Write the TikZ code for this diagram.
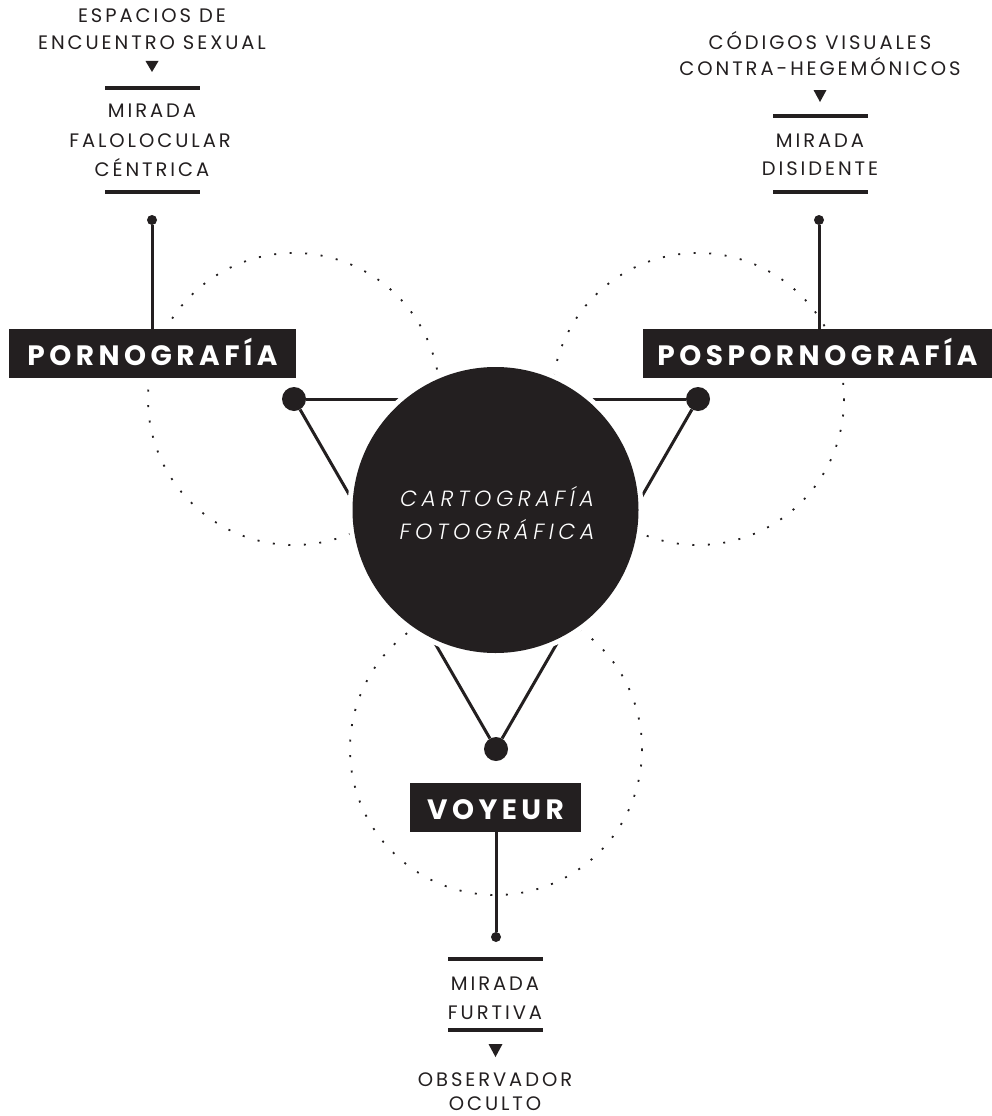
\documentclass[tikz,border=0pt]{standalone}
\usepackage{fontspec}
\setmainfont{Poppins}
\newfontfamily\labfont{Poppins}[LetterSpace=15]
\IfFontExistsTF{Poppins Light Italic}
  {\newfontfamily\cenfont{Poppins Light Italic}[LetterSpace=21]}
  {\newfontfamily\cenfont{Poppins}[LetterSpace=21,FakeSlant=0.2]}
\newfontfamily\boxfont{Poppins}[LetterSpace=16]
\definecolor{dark}{HTML}{231F20}
\tikzset{
  lab/.style={font=\labfont\fontsize{19.5}{19.5}\selectfont, text=dark, anchor=base, inner sep=0pt, text depth=0pt},
  cen/.style={font=\cenfont\fontsize{22}{22}\selectfont, text=white, anchor=base, inner sep=0pt},
  catbox/.style={fill=dark, text=white, font=\boxfont\bfseries\fontsize{28}{28}\selectfont,
    minimum height=49pt, inner sep=0pt, text height=23pt, text depth=0pt},
  bigdot/.style={circle, fill=dark, minimum size=24pt, inner sep=0pt},
  smalldot/.style={circle, fill=dark, minimum size=10pt, inner sep=0pt},
  edgeline/.style={draw=dark, line width=3pt},
  rulebar/.style={draw=dark, line width=3.3pt},
  orbit/.style={draw=dark, line width=1.8pt, dash pattern=on 2pt off 13.54pt},
  hub/.style={circle, fill=dark, minimum size=286pt, inner sep=0pt,
    preaction={draw=white, line width=10pt}},
  marker/.style={fill=dark}
}
\begin{document}
\begin{tikzpicture}[x=1pt,y=-1pt]
\useasboundingbox[fill=white] (0,0) rectangle (992,1116);

% vertices
\coordinate (cL) at (294,399);
\coordinate (cR) at (698,399);
\coordinate (cB) at (496,749);

% dotted orbits
\draw[orbit] (cL) circle (146);
\draw[orbit] (cR) circle (146);
\draw[orbit] (cB) circle (146);

% vertex dots
\node[bigdot] (vL) at (cL) {};
\node[bigdot] (vR) at (cR) {};
\node[bigdot] (vB) at (cB) {};

% triangle
\draw[edgeline] (vL) -- (vR);
\draw[edgeline] (vR) -- (vB);
\draw[edgeline] (vB) -- (vL);

% central hub
\node[hub] (hub) at (495.5,510) {};
\node[cen] (c1) at (497,506) {CARTOGRAFÍA};
\node[cen] (c2) at (497,539) {FOTOGRÁFICA};

% category boxes
\node[catbox, minimum width=287pt] (bL) at (152.5,353.5) {PORNOGRAFÍA};
\node[catbox, minimum width=349pt] (bR) at (817.5,353.5) {POSPORNOGRAFÍA};
\node[catbox, minimum width=171pt] (bB) at (495.5,807.5) {VOYEUR};

% small dots and connectors
\node[smalldot] (dL) at (152,220) {};
\node[smalldot] (dR) at (819,220) {};
\node[smalldot] (dB) at (496,937) {};
\draw[edgeline] (dL) -- (dL |- bL.north);
\draw[edgeline] (dR) -- (dR |- bR.north);
\draw[edgeline] (dB) -- (dB |- bB.south);

% top-left block
\node[lab] (l1) at (152,23) {ESPACIOS DE};
\node[lab] (l2) at (152,50) {ENCUENTRO SEXUAL};
\fill[marker] (145.5,61) -- (158.5,61) -- (152,72) -- cycle;
\draw[rulebar] (105,88) -- (200,88);
\node[lab] (l3) at (152,117) {MIRADA};
\node[lab] (l4) at (150,147) {FALOLOCULAR};
\node[lab] (l5) at (152,176) {CÉNTRICA};
\draw[rulebar] (105,192) -- (200,192);

% top-right block
\node[lab] (r1) at (820,49) {CÓDIGOS VISUALES};
\node[lab] (r2) at (820,75) {CONTRA-HEGEMÓNICOS};
\fill[marker] (813.5,90) -- (826.5,90) -- (820,102) -- cycle;
\draw[rulebar] (773,116) -- (868,116);
\node[lab] (r3) at (820,147) {MIRADA};
\node[lab] (r4) at (820,175) {DISIDENTE};
\draw[rulebar] (773,192) -- (868,192);

% bottom block
\draw[rulebar] (448,959) -- (543,959);
\node[lab] (b1) at (495,990) {MIRADA};
\node[lab] (b2) at (495,1019) {FURTIVA};
\draw[rulebar] (448,1030) -- (543,1030);
\fill[marker] (488.5,1044) -- (502.5,1044) -- (495.5,1057) -- cycle;
\node[lab] (b3) at (495,1086) {OBSERVADOR};
\node[lab] (b4) at (495,1110) {OCULTO};
\end{tikzpicture}
\end{document}
